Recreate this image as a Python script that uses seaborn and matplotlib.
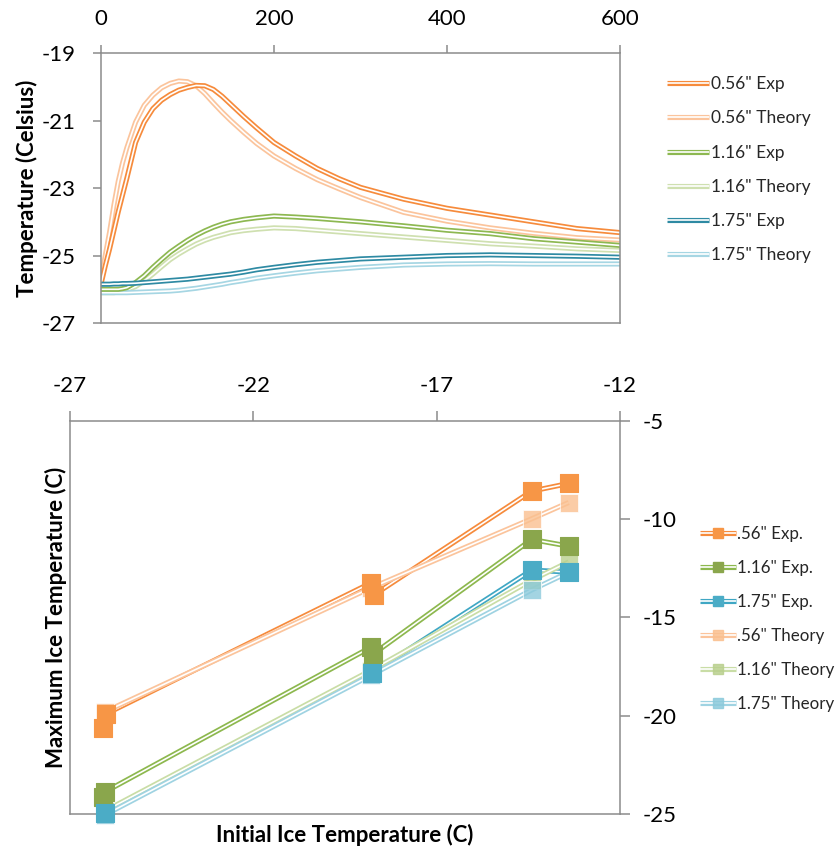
import matplotlib
matplotlib.use("Agg")
import matplotlib.pyplot as plt
import matplotlib.patheffects as pe
from matplotlib.lines import Line2D
from matplotlib.legend_handler import HandlerTuple
import seaborn as sns

# ---------------- top chart data (time in s, temperature in C) ----------------
time_s = [0, 5, 10, 15, 20, 25, 30, 40, 50, 60, 70, 80, 90, 100, 110, 120, 130, 140,
          150, 165, 180, 200, 225, 250, 275, 300, 350, 400, 450, 500, 550, 600]
exp_056 = [-25.85, -25.3, -24.8, -24.25, -23.7, -23.2, -22.7, -21.65, -21.05, -20.65,
           -20.4, -20.23, -20.1, -20.02, -19.96, -19.97, -20.08, -20.28, -20.52, -20.88,
           -21.22, -21.65, -22.05, -22.42, -22.72, -22.98, -23.33, -23.6, -23.8, -24.0,
           -24.2, -24.32]
theory_056 = [-25.7, -25.0, -24.3, -23.5, -22.8, -22.25, -21.8, -21.05, -20.55, -20.25,
              -20.03, -19.9, -19.83, -19.85, -19.97, -20.2, -20.48, -20.75, -21.0, -21.35,
              -21.68, -22.05, -22.42, -22.75, -23.02, -23.28, -23.72, -23.98, -24.18, -24.34,
              -24.47, -24.54]
exp_116 = [-26.0, -26.0, -26.0, -26.0, -26.0, -25.98, -25.95, -25.8, -25.6, -25.35,
           -25.12, -24.9, -24.72, -24.55, -24.4, -24.27, -24.16, -24.07, -24.0, -23.93,
           -23.88, -23.83, -23.86, -23.9, -23.95, -24.0, -24.12, -24.25, -24.35, -24.5,
           -24.6, -24.7]
theory_116 = [-26.1, -26.1, -26.1, -26.1, -26.08, -26.05, -26.02, -25.92, -25.75, -25.55,
              -25.33, -25.12, -24.95, -24.8, -24.66, -24.55, -24.46, -24.39, -24.32, -24.26,
              -24.22, -24.18, -24.2, -24.25, -24.3, -24.35, -24.45, -24.55, -24.65, -24.72,
              -24.8, -24.85]
exp_175 = [-25.85, -25.85, -25.85, -25.84, -25.84, -25.83, -25.83, -25.82, -25.8, -25.78,
           -25.76, -25.74, -25.72, -25.7, -25.67, -25.64, -25.61, -25.58, -25.55, -25.49,
           -25.42, -25.35, -25.27, -25.2, -25.15, -25.1, -25.05, -25.0, -24.98, -25.0,
           -25.02, -25.05]
theory_175 = [-26.1, -26.1, -26.1, -26.1, -26.1, -26.1, -26.1, -26.09, -26.08, -26.07,
              -26.06, -26.05, -26.03, -26.0, -25.97, -25.93, -25.89, -25.85, -25.8, -25.74,
              -25.67, -25.6, -25.52, -25.45, -25.4, -25.35, -25.28, -25.25, -25.24, -25.25,
              -25.25, -25.25]
top_labels = ['0.56" Exp', '0.56" Theory', '1.16" Exp', '1.16" Theory', '1.75" Exp', '1.75" Theory']
top_xticks = [0, 200, 400, 600]
top_yticks = [-19, -21, -23, -25, -27]

# ---------------- bottom chart data (initial vs maximum ice temperature) ----------------
init_056_exp = [-26.10, -26.02, -18.80, -18.72, -14.41, -13.40]
max_056_exp = [-20.62, -19.91, -13.25, -13.86, -8.57, -8.18]
init_116_exp = [-26.10, -26.05, -18.80, -18.73, -14.41, -13.40]
max_116_exp = [-24.15, -23.88, -16.52, -16.86, -11.03, -11.37]
init_175_exp = [-26.05, -18.77, -14.41, -13.40]
max_175_exp = [-24.95, -17.83, -12.59, -12.69]
init_theory = [-26.05, -18.80, -14.41, -13.40]
max_056_theory = [-19.80, -13.50, -9.98, -9.15]
max_116_theory = [-24.85, -17.70, -13.10, -12.17]
max_175_theory = [-25.05, -17.95, -13.60, -12.70]
bottom_labels = ['.56" Exp.', '1.16" Exp.', '1.75" Exp.', '.56" Theory', '1.16" Theory', '1.75" Theory']
bot_xticks = [-27, -22, -17, -12]
bot_yticks = [-25, -20, -15, -10, -5]

# ---------------- styling ----------------
sns.set_theme(style="white")
plt.rcParams['font.family'] = ['Lato', 'DejaVu Sans']
plt.rcParams['axes.unicode_minus'] = False
plt.rcParams['axes.edgecolor'] = '#8c8c8c'
plt.rcParams['axes.linewidth'] = 1.1

fig = plt.figure(figsize=(8.38, 8.47), dpi=100)
ax1 = fig.add_axes([0.1205, 0.6186, 0.6193, 0.3188])
ax2 = fig.add_axes([0.0835, 0.0390, 0.6564, 0.4640])

OUTER, INNER = 3.7, 1.2


def dbl_line(ax, x, y, color, sort=True, z=2):
    sns.lineplot(x=x, y=y, ax=ax, color='white', lw=INNER, sort=sort,
                 estimator=None, legend=False, zorder=z,
                 path_effects=[pe.Stroke(linewidth=OUTER, foreground=color), pe.Normal()])
    line = ax.lines[-1]
    line.set_solid_capstyle('butt')
    line.set_solid_joinstyle('round')
    return line


# ---- top chart ----
top_series = [exp_056, theory_056, exp_116, theory_116, exp_175, theory_175]
top_colors = ['#F68B3C', '#FBC49C', '#8DB851', '#CFE0B0', '#2E8AA3', '#A6D6E3']
draw_order = [1, 3, 5, 0, 2, 4]
top_lines = {}
for i in draw_order:
    top_lines[i] = dbl_line(ax1, time_s, top_series[i], top_colors[i])

ax1.set_xlim(0, 600)
ax1.set_ylim(-27, -19)
ax1.set_xticks(top_xticks)
ax1.set_yticks(top_yticks)
ax1.xaxis.tick_top()
ax1.tick_params(axis='both', which='major', direction='out', length=6, width=1.1,
                color='#8c8c8c', labelsize=16, labelcolor='black')
ax1.tick_params(axis='x', pad=11)
ax1.tick_params(axis='y', pad=12, left=True)
ax1.tick_params(axis='x', top=True, bottom=False)
for s in ax1.spines.values():
    s.set_visible(True)
ax1.set_xlabel('')
ax1.set_ylabel('Temperature (Celsius)', fontsize=16, fontweight='bold', labelpad=3, color='black')

leg1 = ax1.legend([top_lines[i] for i in range(6)], top_labels,
                  loc='upper left', bbox_to_anchor=(1.078, 0.94), frameon=False,
                  fontsize=12.5, handlelength=2.4, handletextpad=0.1,
                  labelspacing=1.05, borderaxespad=0)

# ---- bottom chart ----
exp_sets = [(init_056_exp, max_056_exp), (init_116_exp, max_116_exp), (init_175_exp, max_175_exp)]
theo_sets = [(init_theory, max_056_theory), (init_theory, max_116_theory), (init_theory, max_175_theory)]
exp_line_colors = ['#F68B3C', '#8DB84E', '#3FA7C4']
exp_mark_colors = ['#F79646', '#8AA64C', '#4BACC6']
theo_line_colors = ['#FBC49C', '#C9DDA6', '#9FD3E2']
theo_mark_colors = ['#FAC090', '#B9D08E', '#8CCADB']

handles = []
for (x, y), lc, mc in zip(exp_sets, exp_line_colors, exp_mark_colors):
    ln = dbl_line(ax2, x, y, lc, sort=False, z=2)
    sns.scatterplot(x=x, y=y, ax=ax2, marker='s', s=160, color=mc, edgecolor=mc,
                    linewidth=0.8, zorder=4, legend=False, clip_on=False)
    mk = Line2D([], [], ls='', marker='s', ms=7.5, color=mc, mec=mc)
    handles.append((ln, mk))
for (x, y), lc, mc in zip(theo_sets, theo_line_colors, theo_mark_colors):
    ln = dbl_line(ax2, x, y, lc, sort=False, z=2)
    sns.scatterplot(x=x, y=y, ax=ax2, marker='s', s=160, color=mc, edgecolor='#ffffff',
                    linewidth=0.6, alpha=0.8, zorder=3, legend=False, clip_on=False)
    mk = Line2D([], [], ls='', marker='s', ms=7.5, color=mc, mec=mc, alpha=0.85)
    handles.append((ln, mk))

ax2.set_xlim(-27, -12)
ax2.set_ylim(-25, -5)
ax2.set_xticks(bot_xticks)
ax2.set_yticks(bot_yticks)
ax2.xaxis.tick_top()
ax2.yaxis.tick_right()
ax2.yaxis.set_label_position('left')
ax2.tick_params(axis='both', which='major', direction='out', length=7, width=1.1,
                color='#8c8c8c', labelsize=16, labelcolor='black')
ax2.tick_params(axis='x', pad=11, top=True, bottom=False)
ax2.tick_params(axis='y', pad=9, right=True, left=False)
for s in ax2.spines.values():
    s.set_visible(True)
ax2.set_xlabel('Initial Ice Temperature (C)', fontsize=16, fontweight='bold', labelpad=7, color='black')
ax2.set_ylabel('Maximum Ice Temperature (C)', fontsize=16, fontweight='bold', labelpad=2, color='black')

leg2 = ax2.legend(handles, bottom_labels, handler_map={tuple: HandlerTuple(ndivide=1)},
                  loc='upper left', bbox_to_anchor=(1.133, 0.75), frameon=False,
                  fontsize=12.2, handlelength=2.1, handletextpad=0.1,
                  labelspacing=1.06, borderaxespad=0)

fig.savefig('out.png', dpi=100)
